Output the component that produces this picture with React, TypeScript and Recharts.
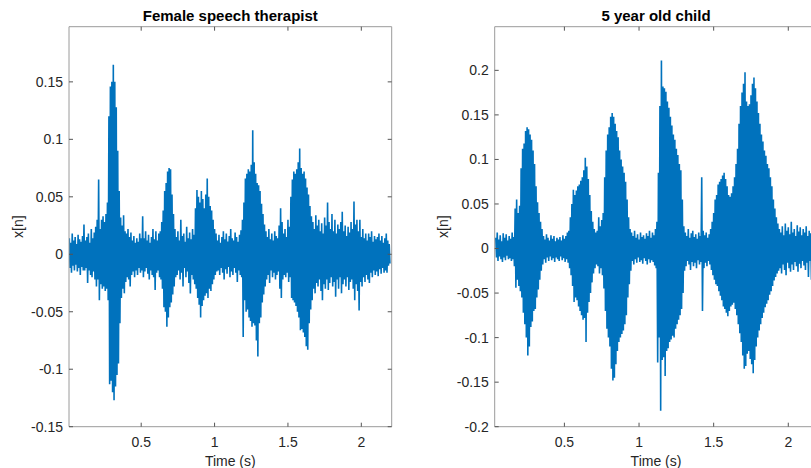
import React from 'react';
import { LineChart, Line, XAxis, YAxis } from 'recharts';

// Sampling of the envelope readings (seconds)
const STEP = 0.01;
const leftStart = 0.01;
const rightStart = 0.04;

// Female speech therapist: upper / lower envelope of x[n] per 10 ms
const leftUpper = [
  0.014, 0.010, 0.018, 0.012, 0.015, 0.009, 0.017, 0.013, 0.011, 0.016,
  0.026, 0.012, 0.015, 0.018, 0.010, 0.022, 0.014, 0.019, 0.024, 0.030,
  0.065, 0.022, 0.030, 0.033, 0.028, 0.035, 0.045, 0.120, 0.146, 0.150,
  0.165, 0.150, 0.128, 0.090, 0.055, 0.032, 0.025, 0.034, 0.020, 0.018,
  0.022, 0.015, 0.019, 0.012, 0.016, 0.010, 0.014, 0.011, 0.018, 0.014,
  0.033, 0.014, 0.020, 0.012, 0.017, 0.010, 0.015, 0.022, 0.013, 0.020,
  0.012, 0.018, 0.020, 0.028, 0.038, 0.055, 0.062, 0.072, 0.075, 0.074,
  0.052, 0.035, 0.022, 0.015, 0.020, 0.012, 0.030, 0.016, 0.018, 0.011,
  0.024, 0.014, 0.019, 0.013, 0.022, 0.017, 0.040, 0.056, 0.050, 0.045,
  0.055, 0.048, 0.040, 0.052, 0.066, 0.050, 0.042, 0.038, 0.030, 0.022,
  0.018, 0.012, 0.017, 0.010, 0.015, 0.020, 0.013, 0.018, 0.011, 0.016,
  0.022, 0.014, 0.012, 0.019, 0.015, 0.011, 0.017, 0.021, 0.030, 0.045,
  0.066, 0.070, 0.074, 0.072, 0.078, 0.108, 0.080, 0.070, 0.062, 0.060,
  0.055, 0.044, 0.035, 0.026, 0.020, 0.015, 0.022, 0.013, 0.018, 0.012,
  0.020, 0.016, 0.014, 0.025, 0.040, 0.028, 0.018, 0.022, 0.015, 0.030,
  0.024, 0.050, 0.065, 0.072, 0.070, 0.074, 0.080, 0.092, 0.075, 0.070,
  0.072, 0.066, 0.058, 0.052, 0.042, 0.033, 0.028, 0.022, 0.034, 0.025,
  0.030, 0.020, 0.027, 0.018, 0.032, 0.025, 0.045, 0.028, 0.022, 0.035,
  0.020, 0.030, 0.018, 0.026, 0.022, 0.028, 0.037, 0.020, 0.025, 0.016,
  0.024, 0.019, 0.028, 0.022, 0.046, 0.026, 0.030, 0.020, 0.030, 0.015,
  0.022, 0.014, 0.018, 0.012, 0.018, 0.015, 0.020, 0.011, 0.016, 0.013,
  0.015, 0.018, 0.012, 0.016, 0.010, 0.014, 0.018, 0.012, 0.009,
];
const leftLower = [
  -0.012, -0.016, -0.010, -0.014, -0.009, -0.015, -0.012, -0.018, -0.011, -0.014,
  -0.014, -0.012, -0.025, -0.014, -0.018, -0.020, -0.015, -0.022, -0.028, -0.022,
  -0.040, -0.026, -0.030, -0.028, -0.032, -0.030, -0.040, -0.113, -0.110, -0.120,
  -0.127, -0.115, -0.105, -0.095, -0.060, -0.038, -0.030, -0.034, -0.024, -0.020,
  -0.022, -0.028, -0.018, -0.015, -0.020, -0.014, -0.018, -0.012, -0.016, -0.014,
  -0.020, -0.015, -0.012, -0.017, -0.022, -0.014, -0.018, -0.020, -0.031, -0.016,
  -0.014, -0.020, -0.022, -0.030, -0.046, -0.050, -0.063, -0.055, -0.046, -0.042,
  -0.035, -0.028, -0.020, -0.018, -0.014, -0.022, -0.016, -0.028, -0.012, -0.020,
  -0.015, -0.025, -0.034, -0.018, -0.022, -0.026, -0.030, -0.038, -0.044, -0.055,
  -0.045, -0.040, -0.036, -0.034, -0.038, -0.030, -0.032, -0.026, -0.022, -0.018,
  -0.015, -0.014, -0.018, -0.012, -0.016, -0.022, -0.013, -0.017, -0.011, -0.020,
  -0.015, -0.018, -0.012, -0.016, -0.024, -0.014, -0.018, -0.020, -0.072, -0.040,
  -0.050, -0.048, -0.055, -0.058, -0.063, -0.060, -0.062, -0.075, -0.089, -0.060,
  -0.055, -0.042, -0.035, -0.028, -0.022, -0.018, -0.025, -0.014, -0.020, -0.016,
  -0.022, -0.018, -0.015, -0.030, -0.038, -0.022, -0.018, -0.020, -0.016, -0.024,
  -0.020, -0.038, -0.040, -0.042, -0.045, -0.050, -0.055, -0.066, -0.065, -0.068,
  -0.072, -0.080, -0.083, -0.060, -0.048, -0.040, -0.030, -0.034, -0.025, -0.028,
  -0.022, -0.032, -0.040, -0.026, -0.030, -0.022, -0.031, -0.025, -0.020, -0.028,
  -0.024, -0.037, -0.022, -0.030, -0.020, -0.034, -0.026, -0.022, -0.028, -0.020,
  -0.031, -0.024, -0.022, -0.030, -0.040, -0.026, -0.032, -0.049, -0.024, -0.028,
  -0.020, -0.024, -0.018, -0.022, -0.025, -0.016, -0.020, -0.014, -0.018, -0.015,
  -0.019, -0.013, -0.017, -0.012, -0.016, -0.014, -0.016, -0.010, -0.008,
];

// 5 year old child: upper / lower envelope of x[n] per 10 ms
const rightUpper = [
  0.012, 0.018, 0.010, 0.015, 0.008, 0.017, 0.012,
  0.016, 0.009, 0.014, 0.011, 0.018, 0.013, 0.045, 0.055, 0.040, 0.048,
  0.090, 0.112, 0.118, 0.132, 0.136, 0.134, 0.128, 0.122, 0.110, 0.095,
  0.070, 0.052, 0.040, 0.030, 0.022, 0.014, 0.010, 0.016, 0.012, 0.009,
  0.015, 0.011, 0.014, 0.008, 0.012, 0.010, 0.013, 0.009, 0.015, 0.011,
  0.014, 0.018, 0.020, 0.035, 0.050, 0.066, 0.060, 0.065, 0.070, 0.072,
  0.076, 0.080, 0.088, 0.102, 0.092, 0.078, 0.060, 0.042, 0.030, 0.022,
  0.018, 0.020, 0.035, 0.025, 0.032, 0.040, 0.080, 0.110, 0.128, 0.136,
  0.148, 0.152, 0.148, 0.140, 0.132, 0.125, 0.110, 0.100, 0.092, 0.085,
  0.075, 0.055, 0.035, 0.022, 0.018, 0.014, 0.020, 0.012, 0.016, 0.010,
  0.018, 0.013, 0.015, 0.011, 0.017, 0.014, 0.020, 0.012, 0.018, 0.015,
  0.022, 0.030, 0.085, 0.160, 0.211, 0.182, 0.180, 0.176, 0.165, 0.158,
  0.148, 0.138, 0.128, 0.122, 0.112, 0.105, 0.095, 0.088, 0.055, 0.025,
  0.018, 0.014, 0.022, 0.012, 0.017, 0.020, 0.013, 0.016, 0.011, 0.018,
  0.014, 0.080, 0.020, 0.015, 0.018, 0.012, 0.016, 0.022, 0.030, 0.040,
  0.055, 0.060, 0.072, 0.075, 0.078, 0.082, 0.085, 0.078, 0.070, 0.060,
  0.058, 0.062, 0.070, 0.080, 0.095, 0.112, 0.140, 0.160, 0.175, 0.185,
  0.198, 0.165, 0.160, 0.162, 0.172, 0.185, 0.192, 0.180, 0.165, 0.152,
  0.140, 0.128, 0.120, 0.110, 0.104, 0.095, 0.090, 0.080, 0.070, 0.055,
  0.045, 0.035, 0.028, 0.022, 0.018, 0.025, 0.015, 0.028, 0.020, 0.024,
  0.016, 0.030, 0.018, 0.022, 0.014, 0.026, 0.019, 0.024, 0.015, 0.022,
  0.018, 0.025, 0.014, 0.020, 0.017, 0.022, 0.015, 0.018, 0.012,
];
const rightLower = [
  -0.010, -0.014, -0.009, -0.012, -0.015, -0.010, -0.013,
  -0.008, -0.012, -0.011, -0.014, -0.012, -0.020, -0.044, -0.035, -0.042, -0.048,
  -0.055, -0.072, -0.085, -0.100, -0.120, -0.110, -0.088, -0.082, -0.070, -0.068,
  -0.055, -0.046, -0.035, -0.025, -0.018, -0.012, -0.016, -0.010, -0.014, -0.009,
  -0.013, -0.011, -0.015, -0.010, -0.012, -0.014, -0.009, -0.013, -0.011, -0.015,
  -0.012, -0.016, -0.022, -0.030, -0.042, -0.060, -0.055, -0.058, -0.065, -0.070,
  -0.075, -0.080, -0.078, -0.105, -0.072, -0.060, -0.050, -0.038, -0.028, -0.022,
  -0.018, -0.020, -0.028, -0.022, -0.030, -0.045, -0.070, -0.090, -0.100, -0.110,
  -0.135, -0.148, -0.145, -0.130, -0.115, -0.105, -0.100, -0.096, -0.092, -0.085,
  -0.075, -0.055, -0.040, -0.025, -0.014, -0.018, -0.012, -0.016, -0.010, -0.015,
  -0.013, -0.017, -0.011, -0.014, -0.018, -0.012, -0.016, -0.013, -0.015, -0.019,
  -0.022, -0.128, -0.100, -0.182, -0.125, -0.122, -0.143, -0.115, -0.112, -0.105,
  -0.102, -0.098, -0.100, -0.090, -0.085, -0.080, -0.075, -0.068, -0.050, -0.025,
  -0.020, -0.014, -0.018, -0.024, -0.015, -0.020, -0.016, -0.022, -0.013, -0.018,
  -0.015, -0.070, -0.022, -0.016, -0.020, -0.014, -0.018, -0.024, -0.030, -0.035,
  -0.040, -0.042, -0.048, -0.053, -0.058, -0.065, -0.068, -0.072, -0.076, -0.070,
  -0.065, -0.063, -0.061, -0.068, -0.075, -0.085, -0.095, -0.105, -0.120, -0.135,
  -0.132, -0.118, -0.115, -0.124, -0.130, -0.140, -0.125, -0.110, -0.100, -0.092,
  -0.085, -0.078, -0.072, -0.066, -0.062, -0.058, -0.052, -0.048, -0.042, -0.036,
  -0.032, -0.028, -0.025, -0.022, -0.028, -0.018, -0.024, -0.030, -0.016, -0.022,
  -0.026, -0.018, -0.024, -0.015, -0.020, -0.026, -0.017, -0.022, -0.014, -0.019,
  -0.024, -0.016, -0.032, -0.014, -0.035, -0.018, -0.015, -0.020, -0.012,
];

const timeTicks = [0.5, 1, 1.5, 2];
const leftAmpTicks = [-0.15, -0.1, -0.05, 0, 0.05, 0.1, 0.15];
const rightAmpTicks = [-0.2, -0.15, -0.1, -0.05, 0, 0.05, 0.1, 0.15, 0.2];
const leftTitle = 'Female speech therapist';
const rightTitle = '5 year old child';

function buildWave(start: number, upper: number[], lower: number[]) {
  const rows: { t: number; v: number }[] = [];
  for (let i = 0; i < upper.length; i++) {
    const t = start + i * STEP;
    rows.push({ t: +t.toFixed(4), v: upper[i] });
    rows.push({ t: +(t + STEP / 2).toFixed(4), v: lower[i] });
  }
  return rows;
}

const FONT = '"Liberation Sans", Arial, Helvetica, sans-serif';
const BLUE = '#0072BD';
const TEXT = '#262626';
const BOX = '#9a9a9a';
const TICKC = '#555';
const tickStyle = { fontSize: 14, fill: TEXT, fontFamily: FONT };
const blank = () => '';

type PanelProps = {
  data: { t: number; v: number }[];
  xDomain: [number, number];
  yDomain: [number, number];
  yTicks: number[];
  width: number;
  margin: { top: number; right: number; bottom: number; left: number };
};

function Panel({ data, xDomain, yDomain, yTicks, width, margin }: PanelProps) {
  return (
    <LineChart width={width} height={468} data={data} margin={margin}>
      <XAxis
        xAxisId="b"
        dataKey="t"
        type="number"
        domain={xDomain}
        ticks={timeTicks}
        allowDataOverflow
        height={30}
        tickSize={-4}
        tickMargin={14}
        tick={tickStyle}
        axisLine={{ stroke: BOX }}
        tickLine={{ stroke: TICKC }}
        interval={0}
      />
      <XAxis
        xAxisId="t"
        dataKey="t"
        type="number"
        orientation="top"
        domain={xDomain}
        ticks={timeTicks}
        allowDataOverflow
        height={10}
        tickSize={-4}
        tickMargin={0}
        tickFormatter={blank}
        tick={tickStyle}
        axisLine={{ stroke: BOX }}
        tickLine={{ stroke: TICKC }}
        interval={0}
      />
      <YAxis
        yAxisId="l"
        type="number"
        domain={yDomain}
        ticks={yTicks}
        allowDataOverflow
        width={50}
        tickSize={-4}
        tickMargin={10}
        tick={tickStyle}
        axisLine={{ stroke: BOX }}
        tickLine={{ stroke: TICKC }}
        interval={0}
      />
      <YAxis
        yAxisId="r"
        orientation="right"
        type="number"
        domain={yDomain}
        ticks={yTicks}
        allowDataOverflow
        width={8}
        tickSize={-4}
        tickMargin={0}
        tickFormatter={blank}
        tick={tickStyle}
        axisLine={{ stroke: BOX }}
        tickLine={{ stroke: TICKC }}
        interval={0}
      />
      <Line
        xAxisId="b"
        yAxisId="l"
        dataKey="v"
        type="linear"
        stroke={BLUE}
        strokeWidth={1.6}
        strokeLinejoin="miter"
        dot={false}
        activeDot={false}
        isAnimationActive={false}
      />
    </LineChart>
  );
}

export default function App() {
  const leftData = buildWave(leftStart, leftUpper, leftLower);
  const rightData = buildWave(rightStart, rightUpper, rightLower);
  return (
    <div
      style={{
        position: 'absolute',
        left: 0,
        top: 0,
        width: 811,
        height: 468,
        overflow: 'hidden',
        background: '#fff',
        fontFamily: FONT,
      }}
    >
      <div style={{ position: 'absolute', left: 0, top: 0 }}>
        <Panel
          data={leftData}
          xDomain={[0.008, 2.207]}
          yDomain={[-0.15, 0.198]}
          yTicks={leftAmpTicks}
          width={400}
          margin={{ top: 16.7, right: 0.3, bottom: 11.3, left: 19 }}
        />
      </div>
      <div style={{ position: 'absolute', left: 400, top: 0 }}>
        <Panel
          data={rightData}
          xDomain={[0.033, 2.195]}
          yDomain={[-0.2, 0.249]}
          yTicks={rightAmpTicks}
          width={430}
          margin={{ top: 16.7, right: 4.6, bottom: 11.3, left: 44.7 }}
        />
      </div>
      <svg
        width={811}
        height={468}
        style={{ position: 'absolute', left: 0, top: 0, pointerEvents: 'none' }}
      >
        <text x={230.3} y={21} textAnchor="middle" fontSize={15} fontWeight="bold" fill="#000" fontFamily={FONT}>
          {leftTitle}
        </text>
        <text x={656} y={21} textAnchor="middle" fontSize={15} fontWeight="bold" fill="#000" fontFamily={FONT}>
          {rightTitle}
        </text>
        <text x={230.3} y={466} textAnchor="middle" fontSize={14} fill={TEXT} fontFamily={FONT}>
          Time (s)
        </text>
        <text x={656} y={466} textAnchor="middle" fontSize={14} fill={TEXT} fontFamily={FONT}>
          Time (s)
        </text>
        <text x={23} y={226.7} textAnchor="middle" fontSize={14} fill={TEXT} fontFamily={FONT} transform="rotate(-90 23 226.7)">
          x[n]
        </text>
        <text x={448} y={226.7} textAnchor="middle" fontSize={14} fill={TEXT} fontFamily={FONT} transform="rotate(-90 448 226.7)">
          x[n]
        </text>
      </svg>
    </div>
  );
}
